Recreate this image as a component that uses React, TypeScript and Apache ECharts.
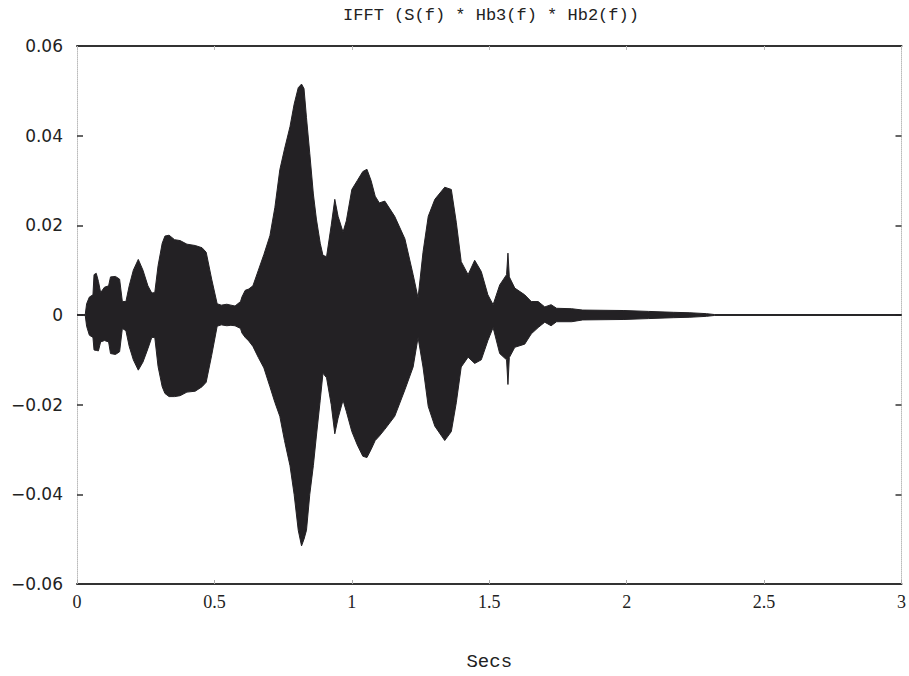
import React, { useEffect, useRef } from "react";
import * as echarts from "echarts";

// time in seconds
const TIME = [
  0.0, 0.03, 0.035, 0.045, 0.058, 0.062, 0.07, 0.078, 0.086, 0.1, 0.115, 0.122, 0.14, 0.155, 0.165, 0.178,
  0.19, 0.205, 0.223, 0.24, 0.258, 0.272, 0.283, 0.295, 0.31, 0.32, 0.335, 0.355, 0.375, 0.4, 0.43, 0.455,
  0.47, 0.49, 0.51, 0.525, 0.545, 0.56, 0.575, 0.595, 0.6, 0.612, 0.625, 0.64, 0.66, 0.68, 0.702, 0.72,
  0.738, 0.755, 0.775, 0.79, 0.805, 0.817, 0.826, 0.835, 0.847, 0.86, 0.871, 0.885, 0.895, 0.908, 0.925,
  0.938, 0.95, 0.968, 0.98, 1.0, 1.02, 1.04, 1.055, 1.07, 1.085, 1.1, 1.12, 1.156, 1.193, 1.223, 1.241,
  1.259, 1.278, 1.302, 1.338, 1.362, 1.38, 1.398, 1.423, 1.447, 1.471, 1.495, 1.514, 1.538, 1.563, 1.568,
  1.573, 1.593, 1.629, 1.653, 1.678, 1.702, 1.725, 1.745, 1.8, 1.84, 1.99, 2.08, 2.17, 2.23, 2.29, 2.32, 3.0,
];

// upper envelope of the waveform
const UPPER = [
  0, 0.0001, 0.0025, 0.004, 0.0045, 0.009, 0.0093, 0.0075, 0.005, 0.0062, 0.0065, 0.0085, 0.0086, 0.008, 0.003, 0.003,
  0.0065, 0.01, 0.0124, 0.01, 0.0065, 0.0049, 0.005, 0.011, 0.016, 0.0176, 0.0178, 0.0168, 0.0166, 0.0158, 0.0155, 0.015,
  0.014, 0.008, 0.0025, 0.0022, 0.0024, 0.0022, 0.002, 0.003, 0.004, 0.0055, 0.0058, 0.0065, 0.01, 0.0135, 0.0177, 0.024,
  0.0324, 0.037, 0.042, 0.047, 0.0507, 0.0515, 0.0505, 0.044, 0.036, 0.027, 0.0214, 0.016, 0.0133, 0.013, 0.02,
  0.0258, 0.022, 0.0185, 0.021, 0.028, 0.03, 0.032, 0.0325, 0.03, 0.0265, 0.025, 0.0254, 0.022, 0.017, 0.009, 0.0038,
  0.014, 0.022, 0.0258, 0.0285, 0.028, 0.0207, 0.0119, 0.009, 0.0122, 0.0097, 0.0045, 0.0023, 0.0067, 0.009, 0.0138,
  0.0085, 0.006, 0.0045, 0.003, 0.003, 0.0018, 0.0023, 0.0015, 0.0014, 0.0011, 0.001, 0.0008, 0.0006, 0.0005, 0.0003, 0.0001, 0.0001,
];

// lower envelope of the waveform
const LOWER = [
  0, -0.0001, -0.0025, -0.0045, -0.005, -0.0078, -0.0079, -0.008, -0.006, -0.0057, -0.006, -0.0086, -0.0088, -0.0082, -0.003, -0.0035,
  -0.007, -0.01, -0.0123, -0.0105, -0.0075, -0.005, -0.005, -0.0115, -0.016, -0.0175, -0.0182, -0.0182, -0.018, -0.0172, -0.017, -0.016,
  -0.015, -0.009, -0.0025, -0.0022, -0.0024, -0.0023, -0.0024, -0.003, -0.004, -0.005, -0.0058, -0.007, -0.0095, -0.0118, -0.016, -0.0195,
  -0.0226, -0.028, -0.0336, -0.04, -0.048, -0.0515, -0.05, -0.048, -0.04, -0.0336, -0.027, -0.019, -0.013, -0.014, -0.02,
  -0.0265, -0.023, -0.019, -0.0215, -0.026, -0.029, -0.0315, -0.0318, -0.03, -0.028, -0.027, -0.0255, -0.0226, -0.0167, -0.0116, -0.005,
  -0.0116, -0.0204, -0.0248, -0.028, -0.026, -0.0196, -0.0116, -0.0094, -0.0108, -0.01, -0.0057, -0.0028, -0.0086, -0.01, -0.0155,
  -0.0095, -0.0072, -0.0065, -0.0042, -0.0028, -0.0016, -0.0024, -0.0015, -0.0015, -0.0011, -0.001, -0.0008, -0.0006, -0.0005, -0.0003, -0.0001, -0.0001,
];

const TITLE = "IFFT (S(f) * Hb3(f) * Hb2(f))";
const X_NAME = "Secs";

const INK = "#232124";

export default function App() {
  const ref = useRef<HTMLDivElement>(null);

  useEffect(() => {
    if (!ref.current) return;
    const chart = echarts.init(ref.current, undefined, { renderer: "svg" });
    const upperData = TIME.map((t, i) => [t, UPPER[i]]);
    const lowerData = TIME.map((t, i) => [t, LOWER[i]]);
    const yFmt = (v: number) => {
      if (Math.abs(v) < 1e-9) return "0";
      return (v < 0 ? "\u2212" : "") + Math.abs(v).toFixed(2);
    };
    chart.setOption({
      animation: false,
      backgroundColor: "#ffffff",
      graphic: [
        {
          type: "text",
          x: 491,
          y: 15,
          style: {
            text: TITLE,
            fill: "#222",
            font: "17px 'Liberation Mono', monospace",
            textAlign: "center",
            textVerticalAlign: "middle",
          },
        },
      ],
      grid: { left: 77, right: 6, top: 46, bottom: 85 },
      xAxis: [
        {
          type: "value",
          min: 0,
          max: 3,
          interval: 0.5,
          position: "bottom",
          name: X_NAME,
          nameLocation: "middle",
          nameGap: 68,
          nameTextStyle: { fontFamily: "'Liberation Mono', monospace", fontSize: 19, color: "#222" },
          axisLine: { show: true, onZero: false, lineStyle: { color: "#333", width: 2 } },
          axisTick: { show: true, inside: true, length: 4, lineStyle: { color: "#aaa", width: 1 } },
          axisLabel: {
            show: true,
            margin: 9,
            fontFamily: "'Liberation Serif', serif",
            fontSize: 18,
            color: "#222",
          },
          splitLine: { show: false },
        },
        {
          type: "value",
          min: 0,
          max: 3,
          interval: 0.5,
          position: "top",
          axisLine: { show: true, onZero: false, lineStyle: { color: "#333", width: 2 } },
          axisTick: { show: true, inside: true, length: 4, lineStyle: { color: "#bbb", width: 1 } },
          axisLabel: { show: false },
          splitLine: { show: false },
        },
      ],
      yAxis: [
        {
          type: "value",
          min: -0.06,
          max: 0.06,
          interval: 0.02,
          position: "left",
          axisLine: { show: true, onZero: false, lineStyle: { color: "#bbb", width: 1, type: "dotted" } },
          axisTick: { show: true, inside: true, length: 6, lineStyle: { color: "#333", width: 1.5 } },
          axisLabel: {
            show: true,
            margin: 14,
            formatter: yFmt,
            fontFamily: "'DejaVu Sans', sans-serif",
            fontSize: 17,
            color: "#222",
          },
          splitLine: { show: false },
        },
        {
          type: "value",
          min: -0.06,
          max: 0.06,
          interval: 0.02,
          position: "right",
          axisLine: { show: true, onZero: false, lineStyle: { color: "#bbb", width: 1, type: "dotted" } },
          axisTick: { show: true, inside: true, length: 6, lineStyle: { color: "#333", width: 1.5 } },
          axisLabel: { show: false },
          splitLine: { show: false },
        },
      ],
      series: [
        {
          type: "line",
          data: upperData,
          xAxisIndex: 0,
          yAxisIndex: 0,
          showSymbol: false,
          symbol: "none",
          lineStyle: { color: INK, width: 1 },
          areaStyle: { color: INK, opacity: 1 },
          silent: true,
        },
        {
          type: "line",
          data: lowerData,
          xAxisIndex: 0,
          yAxisIndex: 0,
          showSymbol: false,
          symbol: "none",
          lineStyle: { color: INK, width: 1 },
          areaStyle: { color: INK, opacity: 1 },
          silent: true,
        },
      ],
    });
    return () => chart.dispose();
  }, []);

  return (
    <div
      ref={ref}
      style={{ position: "fixed", left: 0, top: 0, width: 909, height: 676 }}
    />
  );
}
